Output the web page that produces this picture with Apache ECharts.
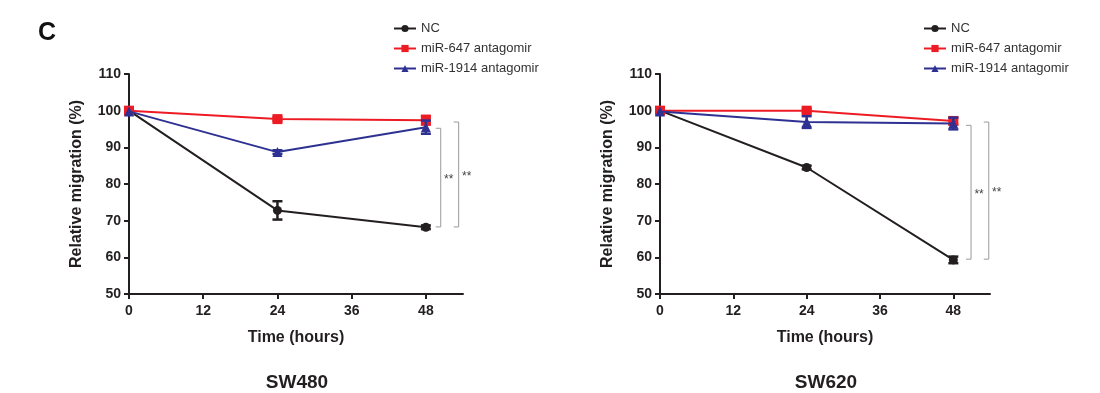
<!DOCTYPE html>
<html><head><meta charset="utf-8">
<script src="https://cdn.jsdelivr.net/npm/echarts@6/dist/echarts.min.js"></script>
<style>html,body{margin:0;background:#fff}#c{width:1100px;height:393px}</style>
</head><body><div id="c"></div>
<script>
// ---- data ----
const hours = [0, 24, 48];
const xTicks = [0, 12, 24, 36, 48];
const yTicks = [50, 60, 70, 80, 90, 100, 110];
const seriesNames = ['NC', 'miR-647 antagomir', 'miR-1914 antagomir'];
const panelTitles = ['SW480', 'SW620'];
const panelLetter = 'C';

const sw480_NC = [100, 72.8, 68.2];
const sw480_NC_err = [0, 2.5, 0.5];
const sw480_647 = [100, 97.7, 97.4];
const sw480_647_err = [0, 0.5, 1.2];
const sw480_1914 = [99.8, 88.7, 95.5];
const sw480_1914_err = [0, 0.5, 1.8];

const sw620_NC = [100, 84.5, 59.3];
const sw620_NC_err = [0, 0.5, 0.9];
const sw620_647 = [100, 100, 97.2];
const sw620_647_err = [0, 0.5, 0.9];
const sw620_1914 = [99.8, 96.9, 96.5];
const sw620_1914_err = [0, 1.6, 1.6];

// significance brackets: [x (hours), top value, bottom value, label]
const sw480_sig = [[50.4, 95.2, 68.3, '**'], [53.3, 96.9, 68.3, '**']];
const sw620_sig = [[50.9, 96.0, 59.5, '**'], [53.8, 96.9, 59.5, '**']];

// ---- chart ----
const colors = ['#231f20', '#ed1c24', '#2e3192'];
const symbols = ['circle', 'rect', 'triangle'];
const symbolSizes = [9, 10, 10];
const FONT = "'Liberation Sans', Arial, Helvetica, sans-serif";

const panels = [
  { vals: [sw480_NC, sw480_647, sw480_1914], errs: [sw480_NC_err, sw480_647_err, sw480_1914_err], sig: sw480_sig },
  { vals: [sw620_NC, sw620_647, sw620_1914], errs: [sw620_NC_err, sw620_647_err, sw620_1914_err], sig: sw620_sig }
];
const grids = [
  { left: 129, top: 74, width: 334, height: 220 },
  { left: 660, top: 74, width: 330, height: 220 }
];

const xAxes = [], yAxes = [], series = [];
grids.forEach((g, i) => {
  xAxes.push({
    type: 'value', gridIndex: i, min: 0, max: 54, interval: 6,
    name: 'Time (hours)', nameLocation: 'middle', nameGap: 36,
    nameTextStyle: { fontFamily: FONT, fontWeight: 'bold', fontSize: 16, color: '#231f20' },
    axisLine: { lineStyle: { color: '#231f20', width: 2 } },
    axisTick: { length: 5, lineStyle: { color: '#231f20', width: 2 }, customValues: xTicks },
    axisLabel: { customValues: xTicks, margin: 10, fontFamily: FONT, fontWeight: 'bold', fontSize: 14, color: '#231f20' },
    splitLine: { show: false }
  });
  yAxes.push({
    type: 'value', gridIndex: i, min: 50, max: 110, interval: 10,
    name: 'Relative migration (%)', nameLocation: 'middle', nameGap: 44, nameRotate: 90,
    nameTextStyle: { fontFamily: FONT, fontWeight: 'bold', fontSize: 16, color: '#231f20' },
    axisLine: { show: true, lineStyle: { color: '#231f20', width: 2 } },
    axisTick: { show: true, length: 5, lineStyle: { color: '#231f20', width: 2 }, customValues: yTicks },
    axisLabel: { customValues: yTicks, margin: 8, fontFamily: FONT, fontWeight: 'bold', fontSize: 14, color: '#231f20' },
    splitLine: { show: false }
  });
  const p = panels[i];
  seriesNames.forEach((name, k) => {
    series.push({
      name, type: 'line', xAxisIndex: i, yAxisIndex: i,
      data: hours.map((h, j) => [h, p.vals[k][j]]),
      symbol: symbols[k], symbolSize: symbolSizes[k],
      lineStyle: { color: colors[k], width: 2 },
      itemStyle: { color: colors[k] },
      z: 3 + k, animation: false
    });
    series.push({
      name, type: 'custom', xAxisIndex: i, yAxisIndex: i,
      data: hours.map((h, j) => [h, p.vals[k][j], p.errs[k][j]]),
      z: 3 + k, animation: false, silent: true,
      renderItem: (params, api) => {
        const x = api.value(0), y = api.value(1), e = api.value(2);
        if (!e) return null;
        const top = api.coord([x, y + e]), bot = api.coord([x, y - e]);
        const w = 5;
        const st = { stroke: colors[k], lineWidth: 2.5 };
        return { type: 'group', children: [
          { type: 'line', shape: { x1: top[0], y1: top[1], x2: bot[0], y2: bot[1] }, style: st },
          { type: 'line', shape: { x1: top[0] - w, y1: top[1], x2: top[0] + w, y2: top[1] }, style: st },
          { type: 'line', shape: { x1: bot[0] - w, y1: bot[1], x2: bot[0] + w, y2: bot[1] }, style: st }
        ]};
      }
    });
  });
  series.push({
    type: 'custom', xAxisIndex: i, yAxisIndex: i, data: p.sig, animation: false, silent: true, z: 2,
    renderItem: (params, api) => {
      const x = api.value(0), y1 = api.value(1), y2 = api.value(2);
      const label = p.sig[params.dataIndex][3];
      const a = api.coord([x, y1]), b = api.coord([x, y2]);
      return { type: 'group', children: [
        { type: 'polyline', shape: { points: [[a[0] - 5, a[1]], [a[0], a[1]], [b[0], b[1]], [b[0] - 5, b[1]]] },
          style: { stroke: '#9a9a9a', lineWidth: 1, fill: null } },
        { type: 'text', x: a[0] + 8, y: (a[1] + b[1]) / 2 + 2,
          style: { text: label, fill: '#444', fontSize: 12, fontFamily: FONT, align: 'center', verticalAlign: 'middle' } }
      ]};
    }
  });
});

const legendBase = {
  orient: 'vertical', itemWidth: 22, itemHeight: 9, itemGap: 7,
  data: seriesNames,
  textStyle: { fontFamily: FONT, fontSize: 13, color: '#333' },
  selectedMode: false
};

const option = {
  backgroundColor: '#fff',
  animation: false,
  title: [
    { text: panelLetter, left: 33, top: 16, textStyle: { fontFamily: FONT, fontWeight: 'bold', fontSize: 25, color: '#111' } },
    { text: panelTitles[0], left: 292, top: 368, textAlign: 'center', textStyle: { fontFamily: FONT, fontWeight: 'bold', fontSize: 19, color: '#231f20' } },
    { text: panelTitles[1], left: 821, top: 368, textAlign: 'center', textStyle: { fontFamily: FONT, fontWeight: 'bold', fontSize: 19, color: '#231f20' } }
  ],
  legend: [
    Object.assign({ left: 388, top: 17 }, legendBase),
    Object.assign({ left: 918, top: 17 }, legendBase)
  ],
  grid: grids,
  xAxis: xAxes,
  yAxis: yAxes,
  series
};
const chart = echarts.init(document.getElementById('c'), null, { renderer: 'canvas' });
chart.setOption(option);
</script></body></html>
